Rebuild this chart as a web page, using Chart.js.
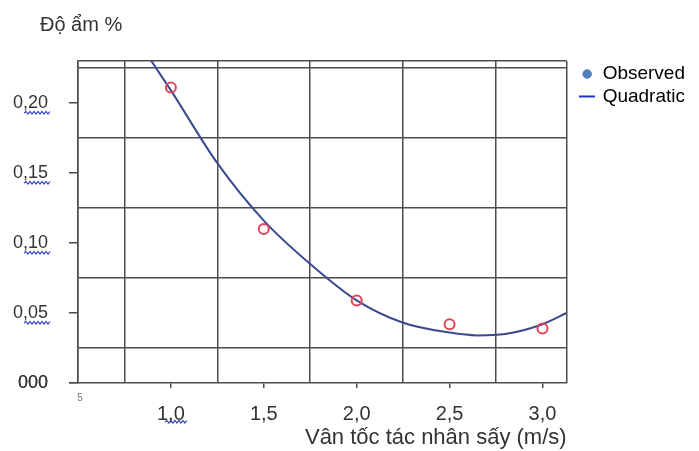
<!DOCTYPE html>
<html>
<head>
<meta charset="utf-8">
<script src="https://cdn.jsdelivr.net/npm/chart.js@4.4.0/dist/chart.umd.min.js"></script>
<style>
  body { margin: 0; background: #fff; }
  #wrap { width: 699px; height: 451px; }
</style>
</head>
<body>
<div id="wrap"><canvas id="moistureChart" width="699" height="451"></canvas></div>
<script>
// observed points
var speeds = [1.0, 1.5, 2.0, 2.5, 3.0];
var moisture = [0.211, 0.110, 0.059, 0.042, 0.039];

// quadratic fit
var fitSpeeds = [0.89, 1.0, 1.25, 1.5, 1.75, 2.0, 2.25, 2.5, 2.65, 2.8, 3.0, 3.13];
var fitMoisture = [0.231, 0.209, 0.157, 0.116, 0.085, 0.059, 0.043, 0.036, 0.034, 0.035, 0.042, 0.050];

var xTickValues = [1.0, 1.5, 2.0, 2.5, 3.0];
var xTickLabels = ['1,0', '1,5', '2,0', '2,5', '3,0'];
var xGridValues = [0.75, 1.25, 1.75, 2.25, 2.75];
var xMin = 0.5, xMax = 3.13;

var yTickValues = [0, 0.05, 0.10, 0.15, 0.20];
var yTickLabels = ['000', '0,05', '0,10', '0,15', '0,20'];
var yGridValues = [0.025, 0.075, 0.125, 0.175, 0.225];
var yMin = 0, yMax = 0.23;

var yTitle = 'Độ ẩm %';
var xTitle = 'Vân tốc tác nhân sấy (m/s)';

var gridColor = '#4d4d4d';
var textColor = '#333333';
var clear = 'rgba(0,0,0,0)';
var fontFamily = '"Liberation Sans", Arial, sans-serif';

Chart.defaults.font.family = fontFamily;
Chart.defaults.color = textColor;

// small line icon for the "Quadratic" legend entry
var lineIcon = document.createElement('canvas');
lineIcon.width = 16;
lineIcon.height = 3;
var lc = lineIcon.getContext('2d');
lc.fillStyle = '#2233cc';
lc.fillRect(0, 0.5, 16, 2);

function allTicks(min, max, grid, labelled) {
  return [min].concat(grid, labelled, [max]).sort(function(a, b) { return a - b; });
}

function isLabelled(ctx, values) {
  return ctx.tick && values.indexOf(ctx.tick.value) >= 0;
}

function squiggle(c, x0, x1, y) {
  c.beginPath();
  c.moveTo(x0, y);
  var up = true;
  for (var x = x0 + 2; x <= x1; x += 2) {
    c.lineTo(x, up ? y - 1.5 : y + 1);
    up = !up;
  }
  c.stroke();
}

var extras = {
  id: 'extras',
  afterLayout: function(chart) {
    // legend sits a little away from the plot in the original
    chart.legend.left += 11;
  },
  afterDraw: function(chart) {
    var c = chart.ctx;
    var xs = chart.scales.x, ys = chart.scales.y;
    c.save();
    // unit title above the y axis
    c.fillStyle = textColor;
    c.font = '20px ' + fontFamily;
    c.textAlign = 'left';
    c.textBaseline = 'middle';
    c.fillText(yTitle, 40, 25);
    // spell-check squiggles
    c.strokeStyle = '#2f3fc0';
    c.lineWidth = 1.2;
    yTickValues.forEach(function(v) {
      if (v === 0) return;
      squiggle(c, 24, 50, ys.getPixelForValue(v) + 10);
    });
    var px = xs.getPixelForValue(xTickValues[0]);
    squiggle(c, px - 6, px + 16, xs.top + 39);
    // stray "5" under the left edge
    c.fillStyle = '#777';
    c.font = '10px ' + fontFamily;
    c.textAlign = 'center';
    c.textBaseline = 'top';
    c.fillText('5', xs.getPixelForValue(xMin) + 2, xs.top + 10);
    c.restore();
  }
};

var ctx = document.getElementById('moistureChart').getContext('2d');

var moistureChart = new Chart(ctx, {
  type: 'scatter',
  data: {
    datasets: [{
      label: 'Observed',
      data: speeds.map(function(s, i) { return { x: s, y: moisture[i] }; }),
      showLine: false,
      pointRadius: 5,
      pointHoverRadius: 5,
      pointBorderWidth: 2,
      pointBorderColor: '#e2445c',
      pointBackgroundColor: clear,
      order: 0
    }, {
      label: 'Quadratic',
      data: fitSpeeds.map(function(s, i) { return { x: s, y: fitMoisture[i] }; }),
      showLine: true,
      pointRadius: 0,
      borderColor: '#3b4a8f',
      borderWidth: 2,
      cubicInterpolationMode: 'monotone',
      order: 1
    }]
  },
  options: {
    responsive: false,
    animation: false,
    layout: {
      padding: { left: 0, right: 15, top: 61, bottom: 0 }
    },
    plugins: {
      tooltip: { enabled: false },
      legend: {
        position: 'right',
        align: 'start',
        fullSize: false,
        labels: {
          usePointStyle: true,
          boxWidth: 12,
          boxHeight: 6,
          padding: 3.5,
          color: textColor,
          font: { size: 19 },
          generateLabels: function() {
            return [
              { text: 'Observed', fillStyle: '#4f7fbf', strokeStyle: '#4f7fbf', lineWidth: 1, pointStyle: 'circle', datasetIndex: 0 },
              { text: 'Quadratic', fillStyle: '#2233cc', strokeStyle: '#2233cc', lineWidth: 0, pointStyle: lineIcon, datasetIndex: 1 }
            ];
          }
        }
      }
    },
    scales: {
      x: {
        type: 'linear',
        min: xMin,
        max: xMax,
        afterBuildTicks: function(scale) {
          scale.ticks = allTicks(xMin, xMax, xGridValues, xTickValues).map(function(v) { return { value: v }; });
        },
        afterFit: function(scale) { scale.height = 68; },
        border: { color: gridColor, width: 1.5 },
        grid: {
          lineWidth: 1.5,
          tickLength: 5,
          color: function(c) { return isLabelled(c, xTickValues) ? clear : gridColor; },
          tickColor: function(c) { return isLabelled(c, xTickValues) ? gridColor : clear; }
        },
        ticks: {
          autoSkip: false,
          maxRotation: 0,
          padding: 14,
          color: textColor,
          font: { size: 20 },
          callback: function(v) {
            var i = xTickValues.indexOf(v);
            return i >= 0 ? xTickLabels[i] : '';
          }
        },
        title: {
          display: true,
          text: xTitle,
          align: 'end',
          color: textColor,
          font: { size: 22 },
          padding: { top: 0, bottom: 0 }
        }
      },
      y: {
        type: 'linear',
        min: yMin,
        max: yMax,
        afterBuildTicks: function(scale) {
          scale.ticks = allTicks(yMin, yMax, yGridValues, yTickValues).map(function(v) { return { value: v }; });
        },
        afterFit: function(scale) { scale.width = 78; },
        border: { color: gridColor, width: 1.5 },
        grid: {
          lineWidth: 1.5,
          tickLength: 9,
          color: function(c) { return isLabelled(c, yTickValues) ? clear : gridColor; },
          tickColor: function(c) { return isLabelled(c, yTickValues) ? gridColor : clear; }
        },
        ticks: {
          autoSkip: false,
          padding: 21,
          color: textColor,
          font: { size: 18 },
          callback: function(v) {
            var i = yTickValues.indexOf(v);
            return i >= 0 ? yTickLabels[i] : '';
          }
        }
      }
    }
  },
  plugins: [extras]
});
</script>
</body>
</html>
